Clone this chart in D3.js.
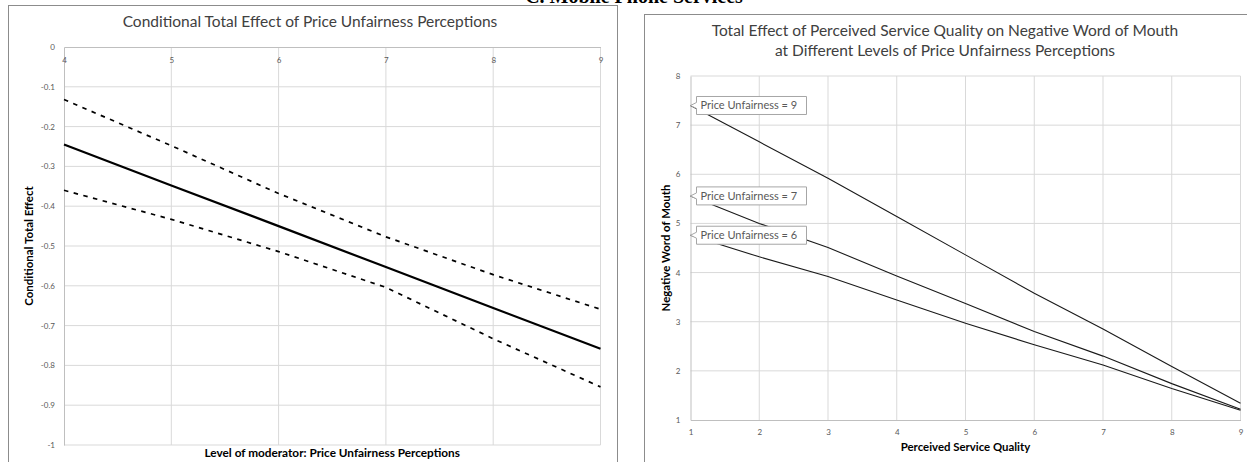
<!DOCTYPE html>
<html>
<head>
<meta charset="utf-8">
<script src="https://cdn.jsdelivr.net/npm/d3@7"></script>
<style>
  html, body { margin: 0; padding: 0; background: #fff; }
  svg { display: block; }
  text { font-family: Lato, "Open Sans", sans-serif; }
</style>
</head>
<body>
<svg id="chart" width="1247" height="462"></svg>
<script>
// ---------- Data: left chart (conditional total effect) ----------
const moderatorLevels = [4, 5, 6, 7, 8, 9];
const effectEstimate  = [-0.245, -0.348, -0.450, -0.553, -0.656, -0.758];
const upperBound      = [-0.132, -0.248, -0.368, -0.477, -0.572, -0.659];
const lowerBound      = [-0.360, -0.433, -0.514, -0.604, -0.733, -0.854];
const leftYTicks      = [0, -0.1, -0.2, -0.3, -0.4, -0.5, -0.6, -0.7, -0.8, -0.9, -1];
const leftYTickLabels = ["0", "-0.1", "-0.2", "-0.3", "-0.4", "-0.5", "-0.6", "-0.7", "-0.8", "-0.9", "-1"];
const leftXTicks      = [4, 5, 6, 7, 8, 9];

// ---------- Data: right chart (NWOM by perceived service quality) ----------
const serviceQuality = [1, 2, 3, 4, 5, 6, 7, 8, 9];
const nwomPU9 = [7.40, 6.66, 5.92, 5.14, 4.36, 3.58, 2.85, 2.09, 1.34];
const nwomPU7 = [5.56, 5.00, 4.51, 3.93, 3.37, 2.80, 2.30, 1.74, 1.22];
const nwomPU6 = [4.76, 4.32, 3.92, 3.44, 2.97, 2.53, 2.12, 1.64, 1.20];
const seriesNames = ["Price Unfairness = 9", "Price Unfairness = 7", "Price Unfairness = 6"];
const rightXTicks = [1, 2, 3, 4, 5, 6, 7, 8, 9];
const rightYTicks = [1, 2, 3, 4, 5, 6, 7, 8];

const svg = d3.select("#chart");
const GRID = "#d9d9d9", TICK = "#595959", FRAME = "#8c8c8c";

svg.append("rect").attr("width", 1247).attr("height", 462).attr("fill", "#fff");

// Cut-off document heading at the very top (only its lower edge shows)
svg.append("text")
  .attr("x", 634).attr("y", 3)
  .attr("text-anchor", "middle")
  .style("font-family", "'Liberation Serif', 'DejaVu Serif', serif")
  .style("font-weight", "bold").style("font-size", "20px")
  .attr("fill", "#000")
  .text("C. Mobile Phone Services");

// Frames
svg.append("rect").attr("x", 8.5).attr("y", 5.5).attr("width", 609).attr("height", 470)
  .attr("fill", "none").attr("stroke", FRAME).attr("stroke-width", 1);
svg.append("rect").attr("x", 644.5).attr("y", 14.5).attr("width", 620).attr("height", 470)
  .attr("fill", "none").attr("stroke", FRAME).attr("stroke-width", 1);

// ================= LEFT CHART =================
const xL = d3.scaleLinear().domain([4, 9]).range([64, 600.5]);
const yL = d3.scaleLinear().domain([-1, 0]).range([445, 47]);
const gL = svg.append("g");

gL.append("g").selectAll("line").data(leftYTicks.filter(d => d !== 0)).join("line")
  .attr("x1", xL(4)).attr("x2", xL(9))
  .attr("y1", d => yL(d)).attr("y2", d => yL(d))
  .attr("stroke", GRID).attr("stroke-width", 1);
gL.append("g").selectAll("line").data(leftXTicks.filter(d => d !== 4)).join("line")
  .attr("x1", d => xL(d)).attr("x2", d => xL(d))
  .attr("y1", yL(0)).attr("y2", yL(-1))
  .attr("stroke", GRID).attr("stroke-width", 1);

const yAxisL = d3.axisLeft(yL).tickValues(leftYTicks).tickSize(0).tickPadding(9)
  .tickFormat((d, i) => leftYTickLabels[i]);
const yAxL = gL.append("g").attr("transform", `translate(${xL(4)},0)`).call(yAxisL);
const xAxisL = d3.axisBottom(xL).tickValues(leftXTicks).tickSize(0).tickPadding(10)
  .tickFormat(d3.format("d"));
const xAxL = gL.append("g").attr("transform", `translate(0,${yL(0)})`).call(xAxisL);
[yAxL, xAxL].forEach(a => {
  a.select(".domain").attr("stroke", "#bfbfbf");
  a.selectAll("text").attr("fill", TICK).style("font-size", "8px")
    .style("font-family", "Lato, sans-serif");
});

const lineL = d3.line().x(d => xL(d[0])).y(d => yL(d[1]));
const zip = (xs, ys) => xs.map((x, i) => [x, ys[i]]);
gL.append("path").datum(zip(moderatorLevels, upperBound)).attr("d", lineL)
  .attr("fill", "none").attr("stroke", "#000").attr("stroke-width", 1.7)
  .attr("stroke-dasharray", "4.5,5.5");
gL.append("path").datum(zip(moderatorLevels, lowerBound)).attr("d", lineL)
  .attr("fill", "none").attr("stroke", "#000").attr("stroke-width", 1.7)
  .attr("stroke-dasharray", "4.5,5.5");
gL.append("path").datum(zip(moderatorLevels, effectEstimate)).attr("d", lineL)
  .attr("fill", "none").attr("stroke", "#000").attr("stroke-width", 2.2);

gL.append("text").attr("x", 310).attr("y", 27).attr("text-anchor", "middle")
  .style("font-size", "15.5px").attr("fill", "#404040")
  .text("Conditional Total Effect of Price Unfairness Perceptions");
gL.append("text").attr("x", (xL(4) + xL(9)) / 2).attr("y", 457).attr("text-anchor", "middle")
  .style("font-size", "11.8px").style("font-weight", "bold").attr("fill", "#000")
  .text("Level of moderator:  Price Unfairness Perceptions");
gL.append("text")
  .attr("transform", `translate(33,${(yL(0) + yL(-1)) / 2}) rotate(-90)`)
  .attr("text-anchor", "middle")
  .style("font-size", "11.5px").style("font-weight", "bold").attr("fill", "#000")
  .text("Conditional Total Effect");

// ================= RIGHT CHART =================
const xR = d3.scaleLinear().domain([1, 9]).range([690.5, 1240.5]);
const yR = d3.scaleLinear().domain([1, 8]).range([420, 76]);
const gR = svg.append("g");

gR.append("g").selectAll("line").data(rightYTicks.filter(d => d !== 1)).join("line")
  .attr("x1", xR(1)).attr("x2", xR(9))
  .attr("y1", d => yR(d)).attr("y2", d => yR(d))
  .attr("stroke", GRID).attr("stroke-width", 1);
gR.append("g").selectAll("line").data(rightXTicks.filter(d => d !== 1)).join("line")
  .attr("x1", d => xR(d)).attr("x2", d => xR(d))
  .attr("y1", yR(8)).attr("y2", yR(1))
  .attr("stroke", GRID).attr("stroke-width", 1);

const yAxisR = d3.axisLeft(yR).tickValues(rightYTicks).tickSize(0).tickPadding(10)
  .tickFormat(d3.format("d"));
const yAxR = gR.append("g").attr("transform", `translate(${xR(1)},0)`).call(yAxisR);
const xAxisR = d3.axisBottom(xR).tickValues(rightXTicks).tickSize(0).tickPadding(9)
  .tickFormat(d3.format("d"));
const xAxR = gR.append("g").attr("transform", `translate(0,${yR(1)})`).call(xAxisR);
[yAxR, xAxR].forEach(a => {
  a.select(".domain").attr("stroke", "#bfbfbf");
  a.selectAll("text").attr("fill", TICK).style("font-size", "8px")
    .style("font-family", "Lato, sans-serif");
});

const lineR = d3.line().x(d => xR(d[0])).y(d => yR(d[1]));
const rightSeries = [nwomPU9, nwomPU7, nwomPU6];
rightSeries.forEach(vals => {
  gR.append("path").datum(zip(serviceQuality, vals)).attr("d", lineR)
    .attr("fill", "none").attr("stroke", "#1a1a1a").attr("stroke-width", 1.1);
});

rightSeries.forEach((vals, i) => {
  const px = xR(serviceQuality[0]), py = yR(vals[0]);
  const bx = px + 6, bw = 110, bh = 18, by = py - bh / 2;
  const g = gR.append("g");
  const p = d3.path();
  p.moveTo(bx, by);
  p.lineTo(bx + bw, by);
  p.lineTo(bx + bw, by + bh);
  p.lineTo(bx, by + bh);
  p.lineTo(bx, by + bh / 2 + 3);
  p.lineTo(px, py);
  p.lineTo(bx, by + bh / 2 - 3);
  p.closePath();
  g.append("path").attr("d", p.toString())
    .attr("fill", "#fff").attr("stroke", "#a6a6a6").attr("stroke-width", 1);
  g.append("text").attr("x", bx + 4).attr("y", py + 4)
    .style("font-size", "11px").attr("fill", "#595959")
    .text(seriesNames[i]);
});

gR.append("text").attr("x", 945).attr("y", 36).attr("text-anchor", "middle")
  .style("font-size", "15.5px").attr("fill", "#404040")
  .text("Total Effect of Perceived Service Quality on Negative Word of Mouth");
gR.append("text").attr("x", 945).attr("y", 56).attr("text-anchor", "middle")
  .style("font-size", "15.5px").attr("fill", "#404040")
  .text("at Different Levels of Price Unfairness Perceptions");
gR.append("text").attr("x", (xR(1) + xR(9)) / 2).attr("y", 451).attr("text-anchor", "middle")
  .style("font-size", "11.4px").style("font-weight", "bold").attr("fill", "#000")
  .text("Perceived Service Quality");
gR.append("text")
  .attr("transform", `translate(670,${(yR(8) + yR(1)) / 2}) rotate(-90)`)
  .attr("text-anchor", "middle")
  .style("font-size", "11.4px").style("font-weight", "bold").attr("fill", "#000")
  .text("Negative Word of Mouth");
</script>
</body>
</html>
